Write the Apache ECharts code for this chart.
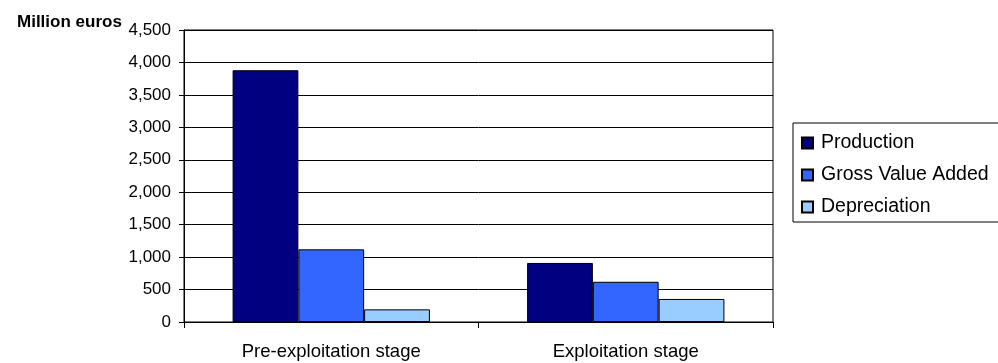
<!DOCTYPE html>
<html>
<head>
<meta charset="utf-8">
<script src="https://cdn.jsdelivr.net/npm/echarts@6/dist/echarts.min.js"></script>
<style>
  html, body { margin: 0; padding: 0; background: #fff; }
  #chart { width: 998px; height: 363px; }
</style>
</head>
<body>
<div id="chart"></div>
<script>
// Stages of the activity and the values in million euros
const categories = ['Pre-exploitation stage', 'Exploitation stage'];
const production = [3880, 910];
const grossValueAdded = [1120, 620];
const depreciation = [195, 355];
const seriesNames = ['Production', 'Gross Value Added', 'Depreciation'];
const seriesColors = ['#000080', '#3366FF', '#99CCFF'];

const FONT = 'Liberation Sans, Arial, sans-serif';
const valueSets = [production, grossValueAdded, depreciation];

const chart = echarts.init(document.getElementById('chart'), null, { renderer: 'canvas' });

chart.setOption({
  animation: false,
  backgroundColor: '#ffffff',
  textStyle: { fontFamily: FONT },
  title: {
    text: 'Million euros',
    left: 12,
    top: 9,
    textStyle: { fontFamily: FONT, fontSize: 17, fontWeight: 'bold', color: '#000' }
  },
  grid: {
    left: 184, right: 225, top: 30, bottom: 41,
    show: true, borderColor: '#000', borderWidth: 1, backgroundColor: 'transparent'
  },
  legend: {
    orient: 'vertical',
    left: 793,
    top: 123,
    padding: [10, 20, 5, 8],
    itemGap: 12,
    itemWidth: 11,
    itemHeight: 11,
    borderColor: '#000',
    borderWidth: 1,
    icon: 'rect',
    textStyle: {
      fontFamily: FONT, fontSize: 19.5, lineHeight: 20, color: '#000',
      padding: [0, 0, 0, 3]
    },
    data: seriesNames
  },
  xAxis: {
    type: 'category',
    data: categories,
    axisLine: { lineStyle: { color: '#000', width: 1 } },
    axisTick: { show: true, length: 6, lineStyle: { color: '#000' } },
    axisLabel: { color: '#000', fontSize: 18.5, fontFamily: FONT, margin: 20 }
  },
  yAxis: {
    type: 'value',
    min: 0,
    max: 4500,
    interval: 500,
    axisLine: { show: true, lineStyle: { color: '#000', width: 1 } },
    axisTick: { show: true, length: 5, lineStyle: { color: '#000' } },
    splitLine: { show: true, lineStyle: { color: '#000', width: 1 } },
    axisLabel: {
      color: '#000', fontSize: 17, fontFamily: FONT, margin: 13,
      formatter: v => v.toLocaleString('en-US')
    }
  },
  series: seriesNames.map((name, i) => ({
    name: name,
    type: 'bar',
    data: valueSets[i],
    barGap: '0%',
    barCategoryGap: '33%',
    itemStyle: { color: seriesColors[i], borderColor: '#000', borderWidth: 1 }
  }))
});
</script>
</body>
</html>
